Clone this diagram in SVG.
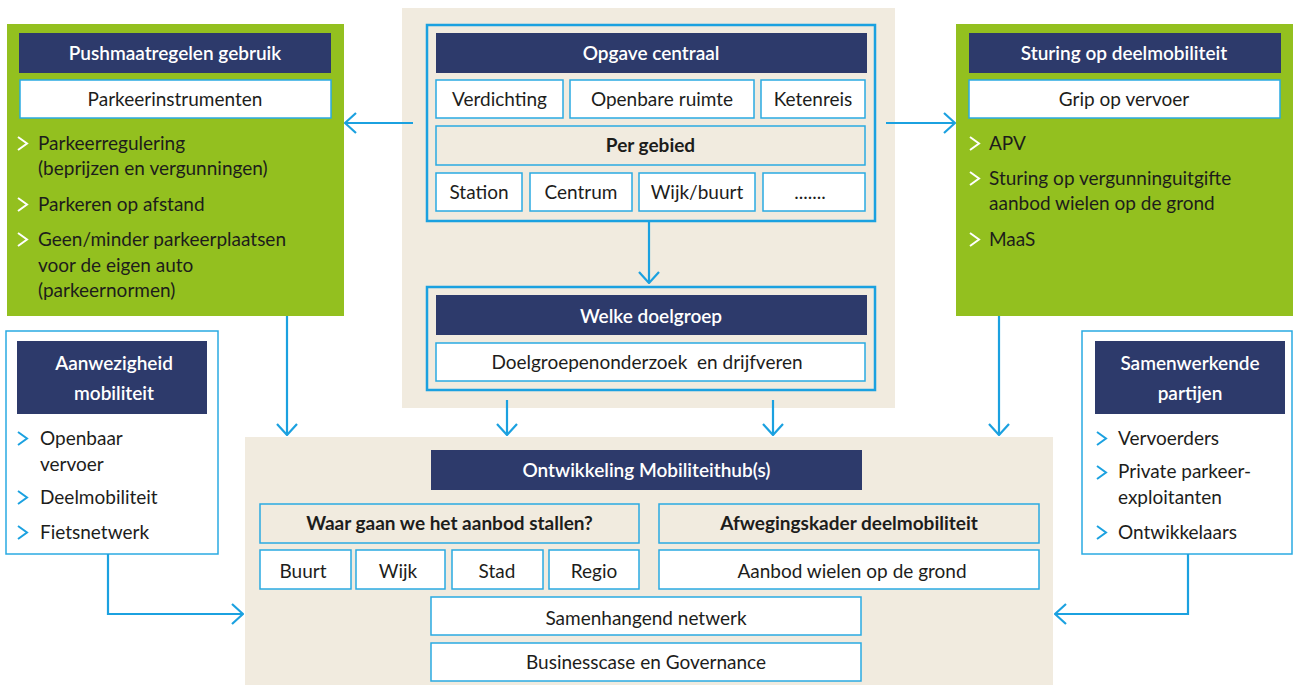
<svg xmlns="http://www.w3.org/2000/svg" width="1293" height="685" viewBox="0 0 1293 685">
<defs>
<style>
text{font-family:Lato,"Open Sans","Liberation Sans",sans-serif;font-size:19px;fill:#1d1d1b}
.hd{fill:#fff;font-weight:600;text-anchor:middle}
.c{text-anchor:middle}
.b{font-weight:700}
.green{fill:#93c01f}
.navy{fill:#2d3a6b}
.beige{fill:#f1ebdf}
.sub{fill:#fff;stroke:#2aaae2;stroke-width:1.5}
.subb{fill:#f1ebdf;stroke:#2aaae2;stroke-width:1.5}
.outer{fill:none;stroke:#1ba1e0;stroke-width:2.5}
.wbox{fill:#fff;stroke:#2aaae2;stroke-width:1.5}
.chw{fill:none;stroke:#fff;stroke-width:2}
.chb{fill:none;stroke:#1ba1e0;stroke-width:2}
.con{fill:none;stroke:#1ba1e0;stroke-width:2.2}
</style>
<marker id="ah" markerUnits="userSpaceOnUse" viewBox="0 0 13 22" refX="12" refY="11" markerWidth="13" markerHeight="22" orient="auto">
<path d="M1,1 L12,11 L1,21" fill="none" stroke="#1ba1e0" stroke-width="2.2"/>
</marker>
</defs>

<rect class="beige" x="402" y="8" width="493" height="400"/>
<rect class="beige" x="245" y="437" width="808" height="248"/>

<g id="pushmaatregelen">
<rect class="green" x="7" y="24" width="337" height="292"/>
<rect class="navy" x="19" y="33" width="312" height="40"/>
<text class="hd" x="175" y="60">Pushmaatregelen gebruik</text>
<rect class="sub" x="20" y="80" width="311" height="38"/>
<text class="c" x="175" y="106">Parkeerinstrumenten</text>
<path class="chw" d="M18,137 L27,143.5 L18,150"/>
<text x="38" y="150">Parkeerregulering</text>
<text x="38" y="175">(beprijzen en vergunningen)</text>
<path class="chw" d="M18,198 L27,204.5 L18,211"/>
<text x="38" y="211">Parkeren op afstand</text>
<path class="chw" d="M18,233 L27,239.5 L18,246"/>
<text x="38" y="246">Geen/minder parkeerplaatsen</text>
<text x="38" y="272">voor de eigen auto</text>
<text x="38" y="297">(parkeernormen)</text>
</g>

<g id="opgave">
<rect class="outer" x="427" y="25" width="448" height="196"/>
<rect class="navy" x="436" y="33" width="431" height="40"/>
<text class="hd" x="651" y="60">Opgave centraal</text>
<rect class="sub" x="436" y="80" width="127" height="38"/>
<text class="c" x="499.5" y="106">Verdichting</text>
<rect class="sub" x="570" y="80" width="184" height="38"/>
<text class="c" x="662" y="106">Openbare ruimte</text>
<rect class="sub" x="761" y="80" width="104" height="38"/>
<text class="c" x="813" y="106">Ketenreis</text>
<rect class="subb" x="436" y="126" width="429" height="39"/>
<text class="c b" x="650.5" y="152">Per gebied</text>
<rect class="sub" x="436" y="173" width="86" height="38"/>
<text class="c" x="479" y="199">Station</text>
<rect class="sub" x="530" y="173" width="102" height="38"/>
<text class="c" x="581" y="199">Centrum</text>
<rect class="sub" x="639" y="173" width="116" height="38"/>
<text class="c" x="697" y="199">Wijk/buurt</text>
<rect class="sub" x="763" y="173" width="102" height="38"/>
<text class="c" x="810" y="199">.......</text>
</g>

<g id="doelgroep">
<rect class="outer" x="427" y="287" width="448" height="103"/>
<rect class="navy" x="436" y="295" width="431" height="40"/>
<text class="hd" x="651" y="323">Welke doelgroep</text>
<rect class="sub" x="436" y="343" width="429" height="38"/>
<text class="c" x="647" y="369" xml:space="preserve">Doelgroepenonderzoek  en drijfveren</text>
</g>

<g id="sturing">
<rect class="green" x="956" y="24" width="337" height="292"/>
<rect class="navy" x="969" y="33" width="312" height="40"/>
<text class="hd" x="1124" y="60">Sturing op deelmobiliteit</text>
<rect class="sub" x="969" y="80" width="311" height="38"/>
<text class="c" x="1124" y="106">Grip op vervoer</text>
<path class="chw" d="M970,137 L979,143.5 L970,150"/>
<text x="989" y="150">APV</text>
<path class="chw" d="M970,172 L979,178.5 L970,185"/>
<text x="989" y="185">Sturing op vergunninguitgifte</text>
<text x="989" y="210">aanbod wielen op de grond</text>
<path class="chw" d="M970,233 L979,239.5 L970,246"/>
<text x="989" y="246">MaaS</text>
</g>

<g id="aanwezigheid">
<rect class="wbox" x="6" y="331" width="212" height="223"/>
<rect class="navy" x="17" y="341" width="190" height="73"/>
<text class="hd" x="114" y="370">Aanwezigheid</text>
<text class="hd" x="114" y="400">mobiliteit</text>
<path class="chb" d="M18,432 L27,438.5 L18,445"/>
<text x="40" y="445">Openbaar</text>
<text x="40" y="471">vervoer</text>
<path class="chb" d="M18,491 L27,497.5 L18,504"/>
<text x="40" y="504">Deelmobiliteit</text>
<path class="chb" d="M18,526 L27,532.5 L18,539"/>
<text x="40" y="539">Fietsnetwerk</text>
</g>

<g id="samenwerkende">
<rect class="wbox" x="1082" y="331" width="210" height="223"/>
<rect class="navy" x="1095" y="341" width="190" height="73"/>
<text class="hd" x="1190" y="370">Samenwerkende</text>
<text class="hd" x="1190" y="400">partijen</text>
<path class="chb" d="M1097,432 L1106,438.5 L1097,445"/>
<text x="1118" y="445">Vervoerders</text>
<path class="chb" d="M1097,466 L1106,472.5 L1097,479"/>
<text x="1118" y="478">Private parkeer-</text>
<text x="1118" y="504">exploitanten</text>
<path class="chb" d="M1097,526 L1106,532.5 L1097,539"/>
<text x="1118" y="539">Ontwikkelaars</text>
</g>

<g id="ontwikkeling">
<rect class="navy" x="431" y="450" width="431" height="40"/>
<text class="hd" x="646.5" y="477">Ontwikkeling Mobiliteithub(s)</text>
<rect class="subb" x="260" y="504" width="379" height="39"/>
<text class="c b" x="449.5" y="530">Waar gaan we het aanbod stallen?</text>
<rect class="subb" x="659" y="504" width="380" height="39"/>
<text class="c b" x="849" y="530">Afwegingskader deelmobiliteit</text>
<rect class="sub" x="260" y="550" width="91" height="39"/>
<text class="c" x="303" y="578">Buurt</text>
<rect class="sub" x="356" y="550" width="89" height="39"/>
<text class="c" x="398" y="578">Wijk</text>
<rect class="sub" x="452" y="550" width="91" height="39"/>
<text class="c" x="497" y="578">Stad</text>
<rect class="sub" x="549" y="550" width="90" height="39"/>
<text class="c" x="594" y="578">Regio</text>
<rect class="sub" x="659" y="550" width="380" height="39"/>
<text class="c" x="852" y="578">Aanbod wielen op de grond</text>
<rect class="sub" x="431" y="597" width="430" height="38"/>
<text class="c" x="646" y="625">Samenhangend netwerk</text>
<rect class="sub" x="431" y="643" width="430" height="38"/>
<text class="c" x="646" y="669">Businesscase en Governance</text>
</g>

<g id="connectors">
<line class="con" x1="413" y1="123" x2="345" y2="123" marker-end="url(#ah)"/>
<line class="con" x1="886" y1="123" x2="955" y2="123" marker-end="url(#ah)"/>
<line class="con" x1="649" y1="221" x2="649" y2="283" marker-end="url(#ah)"/>
<line class="con" x1="507" y1="400" x2="507" y2="435" marker-end="url(#ah)"/>
<line class="con" x1="773" y1="400" x2="773" y2="435" marker-end="url(#ah)"/>
<line class="con" x1="287" y1="316" x2="287" y2="435" marker-end="url(#ah)"/>
<line class="con" x1="999" y1="316" x2="999" y2="435" marker-end="url(#ah)"/>
<polyline class="con" points="108,554 108,614 243,614" marker-end="url(#ah)"/>
<polyline class="con" points="1188,554 1188,614 1055,614" marker-end="url(#ah)"/>
</g>
</svg>
